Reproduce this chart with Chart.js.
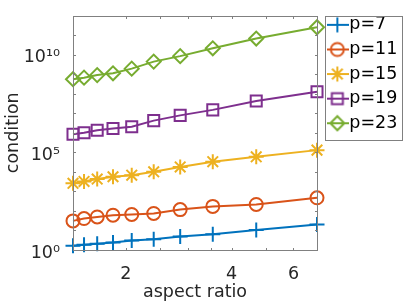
<!DOCTYPE html>
<html><head><meta charset="utf-8">
<script src="https://cdn.jsdelivr.net/npm/chart.js@4/dist/chart.umd.min.js"></script>
<style>html,body{margin:0;padding:0;background:#fff;}canvas{display:block;}</style>
</head><body>
<canvas id="c" width="407" height="305"></canvas>
<script>
// ---- data ----
const aspectRatio = [1.414, 1.52, 1.657, 1.838, 2.078, 2.40, 2.855, 3.535, 4.70, 7.0];
const condP7  = [1.66, 1.86, 2.09, 2.40, 3.02, 3.55, 4.90, 6.46, 10.5, 20.4];
const condP11 = [30.9, 40.7, 49.0, 60.3, 66.1, 74.1, 117, 170, 214, 468];
const condP15 = [2570, 3240, 4270, 5620, 6760, 10000, 17800, 33100, 58900, 129000];
const condP19 = [8.32e5, 1.0e6, 1.35e6, 1.66e6, 2.04e6, 4.17e6, 7.76e6, 1.48e7, 4.17e7, 1.26e8];
const condP23 = [5.50e8, 6.61e8, 8.91e8, 1.10e9, 1.91e9, 4.37e9, 8.32e9, 2.09e10, 6.61e10, 2.51e11];
const seriesLabels = ['p=7', 'p=11', 'p=15', 'p=19', 'p=23'];
const xTickValues = [2, 2.5, 3, 3.5, 4, 5, 6];
const xTickLabels = {2: '2', 4: '4', 6: '6'};
const yTickValues = [1, 1e1, 1e2, 1e3, 1e4, 1e5, 1e6, 1e7, 1e8, 1e9, 1e10, 1e11, 1e12];
const yTickLabels = {1: '10\u2070', 100000: '10\u2075', 10000000000: '10\u00B9\u2070'};
const xTitle = 'aspect ratio';
const yTitle = 'condition';

// ---- styles ----
const seriesValues = [condP7, condP11, condP15, condP19, condP23];
const colors = ['#0072BD', '#D95319', '#EDB120', '#7E2F8E', '#77AC30'];
const styles = ['cross', 'circle', 'star', 'rect', 'rectRot'];
const radii = [7.5, 6.5, 7.5, 7.8, 7];
const FONT = {family: 'DejaVu Sans', size: 17.5};
const AXIS_COLOR = '#808080';
const TEXT_COLOR = '#262626';

function drawMarker(ctx, style, x, y, r) {
  ctx.beginPath();
  const d = r * Math.SQRT1_2;
  switch (style) {
    case 'circle': ctx.arc(x, y, r, 0, 2 * Math.PI); break;
    case 'cross':
      ctx.moveTo(x, y - r); ctx.lineTo(x, y + r);
      ctx.moveTo(x - r, y); ctx.lineTo(x + r, y); break;
    case 'star':
      ctx.moveTo(x, y - r); ctx.lineTo(x, y + r);
      ctx.moveTo(x - r, y); ctx.lineTo(x + r, y);
      ctx.moveTo(x - d, y - d); ctx.lineTo(x + d, y + d);
      ctx.moveTo(x + d, y - d); ctx.lineTo(x - d, y + d); break;
    case 'rect': ctx.rect(x - d, y - d, 2 * d, 2 * d); break;
    case 'rectRot':
      ctx.moveTo(x - r, y); ctx.lineTo(x, y - r); ctx.lineTo(x + r, y); ctx.lineTo(x, y + r);
      ctx.closePath(); break;
  }
  ctx.stroke();
}

const legendImages = colors.map((c, i) => {
  const cv = document.createElement('canvas');
  cv.width = 24; cv.height = 18;
  const g = cv.getContext('2d');
  g.strokeStyle = c; g.lineWidth = 2;
  g.beginPath(); g.moveTo(0, 9); g.lineTo(24, 9); g.stroke();
  drawMarker(g, styles[i], 12, 9, radii[i]);
  return cv;
});

const datasets = seriesValues.map((vals, i) => ({
  label: seriesLabels[i],
  data: aspectRatio.map((x, j) => ({x: x, y: vals[j]})),
  xAxisID: 'x', yAxisID: 'y',
  borderColor: colors[i],
  backgroundColor: colors[i],
  borderWidth: 2,
  pointStyle: styles[i],
  pointRadius: radii[i],
  pointHoverRadius: radii[i],
  pointBorderWidth: 2,
  pointBorderColor: colors[i],
  pointBackgroundColor: 'rgba(0,0,0,0)',
  fill: false,
  tension: 0,
  clip: false
}));

const frame = {
  id: 'frame',
  afterInit(chart) {
    const lg = chart.legend;
    if (lg && !lg._patched) {
      const f = lg.fit.bind(lg);
      lg.fit = function () { f(); this.width = 75; };
      lg._patched = true;
    }
  },
  afterDraw(chart) {
    const ctx = chart.ctx, ca = chart.chartArea;
    const L = Math.round(ca.left), R = Math.round(ca.right), T = Math.round(ca.top), B = Math.round(ca.bottom);
    ctx.save();
    ctx.strokeStyle = AXIS_COLOR; ctx.lineWidth = 1;
    ctx.strokeRect(L + 0.5, T + 0.5, R - L, B - T);
    const tl = 3;
    ctx.beginPath();
    const ys = chart.scales.y;
    yTickValues.forEach(v => {
      const py = Math.round(ys.getPixelForValue(v)) + 0.5;
      ctx.moveTo(L, py); ctx.lineTo(L + tl, py);
      ctx.moveTo(R + 1, py); ctx.lineTo(R + 1 - tl, py);
    });
    const xs = chart.scales.x;
    xTickValues.forEach(v => {
      const px = Math.round(xs.getPixelForValue(v)) + 0.5;
      ctx.moveTo(px, B + 1); ctx.lineTo(px, B + 1 - tl);
      ctx.moveTo(px, T); ctx.lineTo(px, T + tl);
    });
    ctx.stroke();
    // legend frame
    const lg = chart.legend;
    const lx = Math.round(lg.left) - 2;
    ctx.strokeRect(lx + 0.5, T + 0.5, Math.round(lg.right) - lx, 124);
    ctx.restore();
  }
};

new Chart(document.getElementById('c'), {
  type: 'line',
  data: {datasets: datasets},
  plugins: [frame],
  options: {
    responsive: false,
    animation: false,
    devicePixelRatio: 1,
    layout: {padding: {left: 0, top: 9, right: 5, bottom: 0}},
    plugins: {
      tooltip: {enabled: false},
      legend: {
        position: 'right',
        align: 'start',
        labels: {
          usePointStyle: true,
          pointStyleWidth: 6.5,
          padding: 7.1,
          color: '#000',
          font: FONT,
          generateLabels(chart) {
            const items = Chart.defaults.plugins.legend.labels.generateLabels(chart);
            items.forEach((it, i) => { it.pointStyle = legendImages[i]; it.rotation = 0; });
            return items;
          }
        }
      }
    },
    scales: {
      x: {
        type: 'logarithmic', position: 'bottom', min: 1.414, max: 7,
        afterBuildTicks: s => { s.ticks = xTickValues.map(v => ({value: v})); },
        afterFit: s => { s.height = 55; },
        grid: {display: false}, border: {display: false},
        ticks: {autoSkip: false, maxRotation: 0, minRotation: 0, padding: 5.5, font: FONT, color: TEXT_COLOR,
          callback: v => (xTickLabels[v] !== undefined ? xTickLabels[v] : '')},
        title: {display: true, text: xTitle, font: FONT, color: TEXT_COLOR, padding: {top: 0, bottom: 2.3}}
      },
      y: {
        type: 'logarithmic', position: 'left', min: 1, max: 1e12,
        afterBuildTicks: s => { s.ticks = yTickValues.map(v => ({value: v})); },
        afterFit: s => { s.width = 73; },
        grid: {display: false}, border: {display: false},
        ticks: {autoSkip: false, padding: 5, labelOffset: 3, font: FONT, color: TEXT_COLOR,
          callback: v => (yTickLabels[v] !== undefined ? yTickLabels[v] : '')},
        title: {display: true, text: yTitle, font: FONT, color: TEXT_COLOR, padding: {top: 3.4, bottom: 0}}
      },
      xTop: {
        type: 'linear', position: 'top', display: true,
        grid: {display: false}, border: {display: false}, ticks: {display: false},
        afterFit: s => { s.height = 3; }
      },
      yRight: {
        type: 'linear', position: 'right', display: true,
        grid: {display: false}, border: {display: false}, ticks: {display: false},
        afterFit: s => { s.width = 10; }
      }
    }
  }
});
</script>
</body></html>
